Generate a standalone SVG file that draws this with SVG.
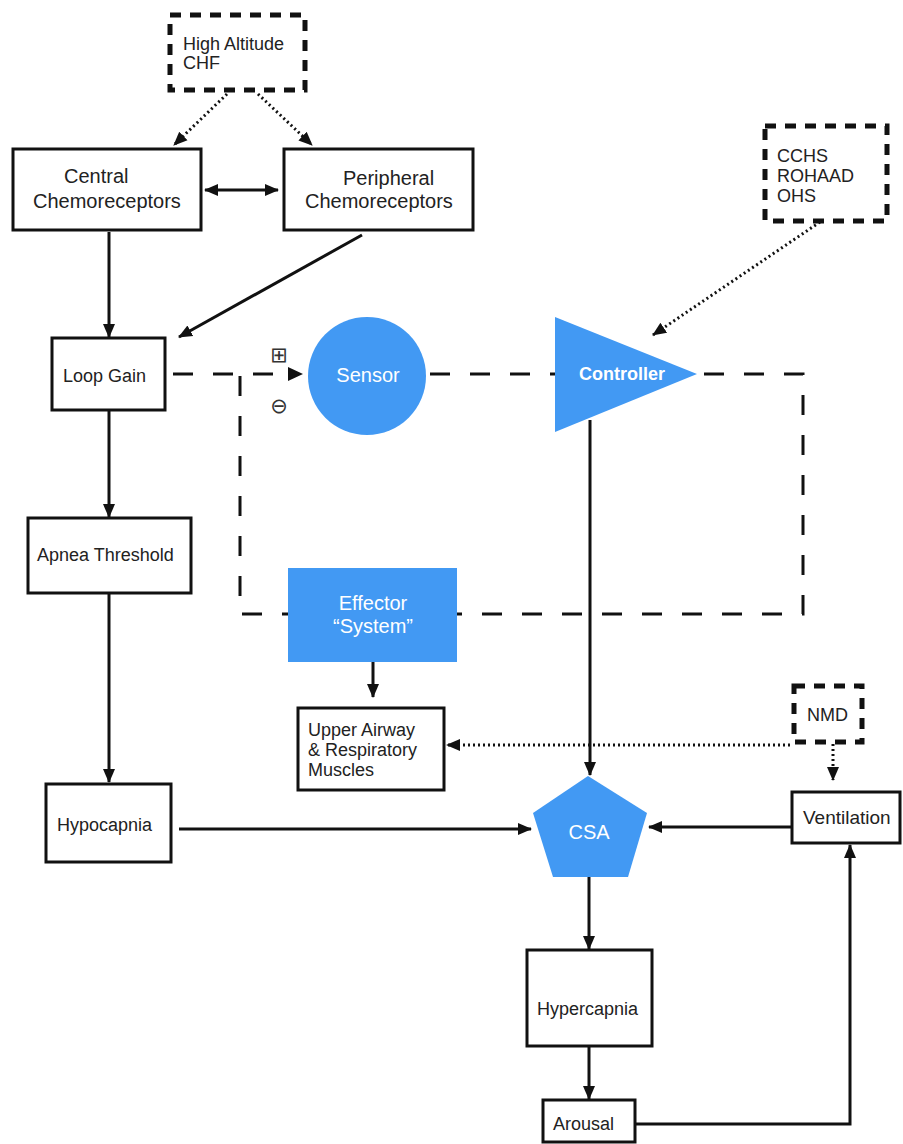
<svg xmlns="http://www.w3.org/2000/svg" width="903" height="1144" viewBox="0 0 903 1144">
<defs>
<style>
.box{fill:#fff;stroke:#111;stroke-width:3}
.dbox{fill:#fff;stroke:#111;stroke-width:5;stroke-dasharray:11 9}
.blue{fill:#4299f3;stroke:none}
.t{font-family:"Liberation Sans",Arial,sans-serif;font-size:18px;fill:#222}
.tc{font-family:"Liberation Sans",Arial,sans-serif;font-size:20px;fill:#222}
.w{font-family:"Liberation Sans",Arial,sans-serif;font-size:20px;fill:#fff;text-anchor:middle}
.sym{font-family:"DejaVu Sans",sans-serif;font-size:21px;fill:#333;text-anchor:middle}
.ln{fill:none;stroke:#111;stroke-width:3}
.dash{fill:none;stroke:#111;stroke-width:3;stroke-dasharray:20 20}
.dot{fill:none;stroke:#111;stroke-width:3;stroke-dasharray:2 3}
</style>
<marker id="ah" viewBox="0 0 14 14" refX="13" refY="7" markerWidth="14" markerHeight="14" markerUnits="userSpaceOnUse" orient="auto-start-reverse">
<path d="M0,1 L14,7 L0,13 Z" fill="#111"/>
</marker>
</defs>

<g id="connectors">
<path class="dot" d="M227,94 L174,145" marker-end="url(#ah)"/>
<path class="dot" d="M258,94 L312,145" marker-end="url(#ah)"/>
<path class="ln" d="M205,190 H278" marker-start="url(#ah)" marker-end="url(#ah)"/>
<path class="ln" d="M109,232 V337" marker-end="url(#ah)"/>
<path class="ln" d="M362,235 L179,337" marker-end="url(#ah)"/>
<path class="dot" d="M820,222 L653,335" marker-end="url(#ah)"/>
<path class="dash" d="M173,374 H290"/>
<path d="M288,367 L303,374 L288,381 Z" fill="#111"/>
<path class="dash" d="M240,376 V614 H803 V374 H690"/>
<path class="dash" d="M430,374 H560"/>
<path class="ln" d="M590,420 V775" marker-end="url(#ah)"/>
<path class="ln" d="M109,410 V517" marker-end="url(#ah)"/>
<path class="ln" d="M109,593 V782" marker-end="url(#ah)"/>
<path class="ln" d="M373,662 V697" marker-end="url(#ah)"/>
<path class="dot" d="M790,745 H447" marker-end="url(#ah)"/>
<path class="dot" d="M833,744 V780" marker-end="url(#ah)"/>
<path class="ln" d="M179,829 H531" marker-end="url(#ah)"/>
<path class="ln" d="M791,827 H649" marker-end="url(#ah)"/>
<path class="ln" d="M589,877 V949" marker-end="url(#ah)"/>
<path class="ln" d="M589,1046 V1099" marker-end="url(#ah)"/>
<path class="ln" d="M636,1124 H850 V845" marker-end="url(#ah)"/>
</g>

<g id="high-altitude">
<rect class="dbox" x="170" y="15" width="135" height="75"/>
<text class="t" x="183" y="50">High Altitude</text>
<text class="t" x="183" y="69">CHF</text>
</g>

<g id="central">
<rect class="box" x="13" y="149" width="188" height="81"/>
<text class="tc" x="64" y="183">Central</text>
<text class="tc" x="33" y="208">Chemoreceptors</text>
</g>

<g id="peripheral">
<rect class="box" x="284" y="149" width="189" height="81"/>
<text class="tc" x="343" y="185">Peripheral</text>
<text class="tc" x="305" y="208">Chemoreceptors</text>
</g>

<g id="cchs">
<rect class="dbox" x="765" y="126" width="122" height="95"/>
<text class="t" x="777" y="162">CCHS</text>
<text class="t" x="777" y="182">ROHAAD</text>
<text class="t" x="777" y="202">OHS</text>
</g>

<g id="loop-gain">
<rect class="box" x="52" y="338" width="113" height="72"/>
<text class="t" x="63" y="382">Loop Gain</text>
</g>

<g id="signs">
<text class="sym" x="279" y="362">⊞</text>
<text class="sym" x="279" y="413">⊖</text>
</g>

<g id="sensor">
<circle class="blue" cx="367" cy="376" r="59"/>
<text class="w" x="368" y="382">Sensor</text>
</g>

<g id="controller">
<path class="blue" d="M555,317 L697,374 L555,432 Z"/>
<text class="w" x="622" y="380" style="font-weight:bold;font-size:18px">Controller</text>
</g>

<g id="apnea-threshold">
<rect class="box" x="28" y="518" width="163" height="75"/>
<text class="t" x="37" y="561">Apnea Threshold</text>
</g>

<g id="effector">
<rect class="blue" x="288" y="568" width="169" height="94"/>
<text class="w" x="373" y="610">Effector</text>
<text class="w" x="373" y="633">“System”</text>
</g>

<g id="upper-airway">
<rect class="box" x="298" y="708" width="146" height="82"/>
<text class="t" x="308" y="736">Upper Airway</text>
<text class="t" x="308" y="756">&amp; Respiratory</text>
<text class="t" x="308" y="776">Muscles</text>
</g>

<g id="nmd">
<rect class="dbox" x="794" y="686" width="68" height="56"/>
<text class="t" x="807" y="721">NMD</text>
</g>

<g id="hypocapnia">
<rect class="box" x="46" y="784" width="125" height="78"/>
<text class="t" x="57" y="831">Hypocapnia</text>
</g>

<g id="csa">
<path class="blue" d="M588,776 L647,813 L628,877 L553,877 L533,813 Z"/>
<text class="w" x="589" y="839">CSA</text>
</g>

<g id="ventilation">
<rect class="box" x="792" y="792" width="108" height="51"/>
<text class="t" x="803" y="824" style="font-size:19px">Ventilation</text>
</g>

<g id="hypercapnia">
<rect class="box" x="527" y="950" width="125" height="96"/>
<text class="t" x="537" y="1015">Hypercapnia</text>
</g>

<g id="arousal">
<rect class="box" x="543" y="1100" width="92" height="42"/>
<text class="t" x="553" y="1130">Arousal</text>
</g>
</svg>
